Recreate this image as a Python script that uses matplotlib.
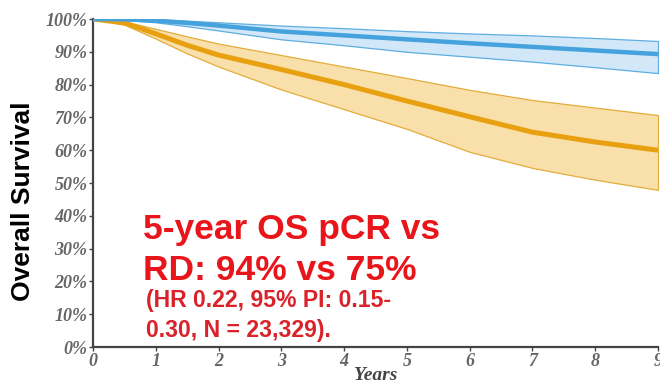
import matplotlib
matplotlib.use("Agg")
import matplotlib.pyplot as plt
import numpy as np

# Survival estimates by year (pCR vs residual disease), with 95% prediction bands
years = [0, 0.5, 1, 1.5, 2, 3, 4, 5, 6, 7, 8, 9]

pcr_mid = [1.000, 0.999, 0.995, 0.988, 0.980, 0.962, 0.950, 0.938, 0.926, 0.915, 0.904, 0.893]
pcr_hi = [1.000, 1.000, 0.999, 0.995, 0.990, 0.980, 0.972, 0.963, 0.956, 0.950, 0.942, 0.933]
pcr_lo = [1.000, 0.997, 0.990, 0.978, 0.965, 0.938, 0.920, 0.900, 0.885, 0.870, 0.853, 0.835]

rd_mid = [1.000, 0.988, 0.955, 0.920, 0.890, 0.846, 0.800, 0.750, 0.702, 0.655, 0.625, 0.600]
rd_hi = [1.000, 0.993, 0.970, 0.947, 0.925, 0.890, 0.855, 0.820, 0.784, 0.753, 0.730, 0.707]
rd_lo = [1.000, 0.983, 0.940, 0.895, 0.855, 0.785, 0.725, 0.665, 0.595, 0.546, 0.510, 0.479]

y_ticks = np.arange(0, 1.01, 0.1)
y_tick_labels = [f"{int(round(v * 100))}%" for v in y_ticks]
x_ticks = list(range(10))

annotation_big = ["5-year OS pCR vs", "RD: 94% vs 75%"]
annotation_small = ["(HR 0.22, 95% PI: 0.15-", "0.30, N = 23,329)."]

fig = plt.figure(figsize=(6.6, 3.86), dpi=100)
ax = fig.add_axes([93 / 660, 1 - 347 / 386, 565 / 660, 328 / 386])

ax.fill_between(years, rd_lo, rd_hi, facecolor="#f9e0aa", edgecolor="#e3ad3c",
                linewidth=0.9, zorder=1)
ax.plot(years, rd_mid, color="#e9a010", linewidth=3.6, zorder=3,
        solid_capstyle="butt")

ax.fill_between(years, pcr_lo, pcr_hi, facecolor="#d2e8f8", edgecolor="#5eaee2",
                linewidth=0.9, zorder=2)
ax.plot(years, pcr_mid, color="#45a2dd", linewidth=3.2, zorder=4,
        solid_capstyle="butt")

ax.set_xlim(0, 9)
ax.set_ylim(0, 1)
for side in ["top", "right"]:
    ax.spines[side].set_visible(False)
for side in ["left", "bottom"]:
    ax.spines[side].set_color("#444444")
    ax.spines[side].set_linewidth(1.6)

tick_font = dict(family="Liberation Serif", style="italic", weight="bold",
                 size=13, color="#666666")
ax.set_yticks(y_ticks)
ax.set_yticklabels(y_tick_labels, **tick_font)
ax.set_xticks(x_ticks)
ax.set_xticklabels([str(v) for v in x_ticks], **tick_font)
ax.tick_params(direction="out", length=3, width=1, color="#444444", pad=1)

ax.set_xlabel("Years", family="Liberation Serif", style="italic", weight="bold",
              size=14, color="#444444", labelpad=-1.5)
fig.text(23 / 660, 1 - 201 / 386, "Overall Survival", rotation=90, ha="center",
         va="center", family="Liberation Sans", weight="bold", size=19, color="black")

fig.text(143 / 660, 1 - 239 / 386, annotation_big[0], family="Liberation Sans",
         weight="bold", size=25.5, color="#e8151b")
fig.text(143 / 660, 1 - 280 / 386, annotation_big[1], family="Liberation Sans",
         weight="bold", size=25.5, color="#e8151b")
fig.text(146 / 660, 1 - 307 / 386, annotation_small[0], family="Liberation Sans",
         weight="bold", size=16.6, color="#d9222a")
fig.text(146 / 660, 1 - 337 / 386, annotation_small[1], family="Liberation Sans",
         weight="bold", size=16.6, color="#d9222a")

fig.savefig("out.png", dpi=100)
